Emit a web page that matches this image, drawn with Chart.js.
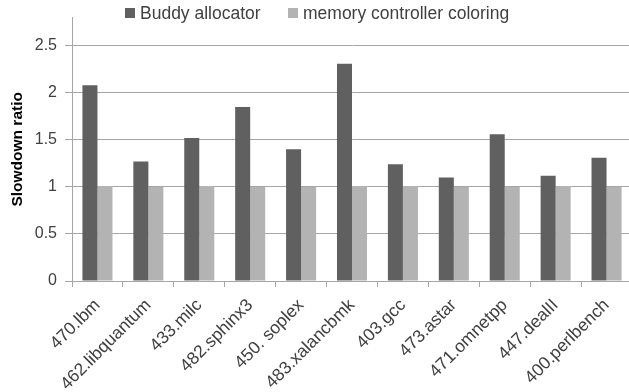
<!DOCTYPE html>
<html>
<head>
<meta charset="utf-8">
<script src="https://cdn.jsdelivr.net/npm/chart.js@4"></script>
<style>
html,body{margin:0;padding:0;background:#fff;overflow:hidden;}
#wrap{width:632px;height:392px;position:relative;}
</style>
</head>
<body>
<div id="wrap"><canvas id="c"></canvas></div>
<script>
const categories = ["470.lbm","462.libquantum","433.milc","482.sphinx3","450. soplex","483.xalancbmk","403.gcc","473.astar","471.omnetpp","447.dealII","400.perlbench"];
const buddyAllocator = [2.08,1.27,1.52,1.85,1.40,2.31,1.24,1.10,1.56,1.12,1.31];
const memControllerColoring = [1.01,1.00,1.01,1.00,1.00,1.01,1.01,1.00,1.00,1.01,1.00];
const seriesNames = ["Buddy allocator","memory controller coloring"];
const yTicks = [0,0.5,1,1.5,2,2.5];
const yTitle = "Slowdown ratio";

const FONT = "'Liberation Sans', Arial, sans-serif";
const TEXT = "#404040";
const GRID = "#a6a6a6";
const colors = ["#606060","#b3b3b3"];

const legendPlugin = {
  id: 'customLegend',
  afterDraw(chart){
    const ctx = chart.ctx;
    ctx.save();
    ctx.font = "17.5px " + FONT;
    ctx.textBaseline = "middle";
    const xs = [125, 288];
    const y = 13;
    chart.data.datasets.forEach((ds,i)=>{
      ctx.fillStyle = ds.backgroundColor;
      ctx.fillRect(xs[i], y-5, 10, 10);
      ctx.fillStyle = TEXT;
      ctx.fillText(ds.label, xs[i]+15, y+1);
    });
    ctx.restore();
  }
};

new Chart(document.getElementById('c'), {
  type: 'bar',
  data: {
    labels: categories,
    datasets: [
      {label: seriesNames[0], data: buddyAllocator, backgroundColor: colors[0], barPercentage: 1.0, categoryPercentage: 0.59},
      {label: seriesNames[1], data: memControllerColoring, backgroundColor: colors[1], barPercentage: 1.0, categoryPercentage: 0.59}
    ]
  },
  options: {
    responsive: true,
    maintainAspectRatio: false,
    animation: false,
    layout: {padding: {top: 6, right: 0, left: 0, bottom: 0}},
    plugins: {legend: {display: false}, tooltip: {enabled: false}},
    scales: {
      x: {
        grid: {display: true, offset: true, drawOnChartArea: false, color: GRID, tickLength: 6},
        border: {display: true, color: GRID},
        ticks: {color: TEXT, font: {family: FONT, size: 17.5}, minRotation: 45, maxRotation: 45, autoSkip: false, padding: 8},
        afterFit(scale){ scale.height = 111; }
      },
      y: {
        min: 0, max: 2.8,
        afterBuildTicks(scale){ scale.ticks = yTicks.map(v=>({value:v})); },
        grid: {color: GRID, tickLength: 7},
        border: {display: true, color: GRID},
        ticks: {color: TEXT, font: {family: FONT, size: 16}, padding: 8,
          callback: v => String(v)},
        title: {display: true, text: yTitle, color: "#000", font: {family: FONT, size: 15.5, weight: 'bold'}, padding: {top:8,bottom:0}},
        afterFit(scale){ scale.width = 72; }
      }
    }
  },
  plugins: [legendPlugin]
});
</script>
</body>
</html>
